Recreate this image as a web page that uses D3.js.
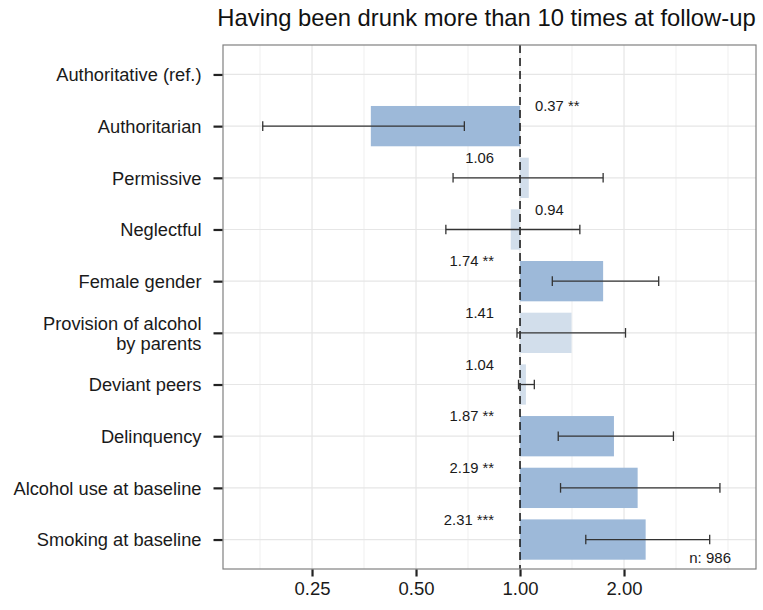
<!DOCTYPE html>
<html>
<head>
<meta charset="utf-8">
<script src="https://cdn.jsdelivr.net/npm/d3@7"></script>
<style>
  html, body { margin: 0; padding: 0; background: #fff; }
  svg { display: block; font-family: "Liberation Sans", Arial, Helvetica, sans-serif; }
</style>
</head>
<body>
<svg id="chart" width="763" height="610"></svg>
<script>
// ---- data ----
const categories = [
  "Authoritative (ref.)", "Authoritarian", "Permissive", "Neglectful",
  "Female gender", "Provision of alcohol\nby parents", "Deviant peers",
  "Delinquency", "Alcohol use at baseline", "Smoking at baseline"
];
const oddsRatios = [null, 0.37, 1.06, 0.94, 1.74, 1.41, 1.04, 1.87, 2.19, 2.31];
const ciLower    = [null, 0.18, 0.64, 0.61, 1.24, 0.98, 0.99, 1.29, 1.31, 1.55];
const ciUpper    = [null, 0.69, 1.74, 1.49, 2.52, 2.02, 1.10, 2.78, 3.79, 3.54];
const stars      = ["", "**", "", "", "**", "", "", "**", "**", "***"];
const tickValues = [0.25, 0.5, 1, 2];
const tickLabels = ["0.25", "0.50", "1.00", "2.00"];
const minorGrid  = [Math.SQRT1_2 / 4, Math.SQRT1_2 / 2, Math.SQRT1_2, Math.SQRT2, 2 * Math.SQRT2, 4];
const titleText  = "Having been drunk more than 10 times at follow-up";
const nLabel     = "n: 986";

const rows = categories.map((c, i) => ({
  cat: c, or: oddsRatios[i], lo: ciLower[i], hi: ciUpper[i], star: stars[i]
}));

// ---- layout ----
const P = { left: 223, right: 756, top: 45, bottom: 569 };
const svg = d3.select("#chart");

const x = d3.scaleLog().base(2)
  .domain([Math.pow(2, -2.856), Math.pow(2, 2.269)])
  .range([P.left, P.right]);
const y = d3.scalePoint().domain(categories)
  .range([P.top, P.bottom]).padding(0.57);
const step = y.step();
const barH = step * 0.78;

const g = svg.append("g");

// panel background
g.append("rect").attr("x", P.left).attr("y", P.top)
  .attr("width", P.right - P.left).attr("height", P.bottom - P.top)
  .attr("fill", "#fff");

// minor gridlines
g.selectAll("line.minor").data(minorGrid).join("line")
  .attr("class", "minor")
  .attr("x1", d => x(d)).attr("x2", d => x(d))
  .attr("y1", P.top).attr("y2", P.bottom)
  .attr("stroke", "#efefef").attr("stroke-width", 1);

// major gridlines
g.selectAll("line.vmajor").data(tickValues).join("line")
  .attr("class", "vmajor")
  .attr("x1", d => x(d)).attr("x2", d => x(d))
  .attr("y1", P.top).attr("y2", P.bottom)
  .attr("stroke", "#e6e6e6").attr("stroke-width", 1.2);
g.selectAll("line.hmajor").data(categories).join("line")
  .attr("class", "hmajor")
  .attr("x1", P.left).attr("x2", P.right)
  .attr("y1", d => y(d)).attr("y2", d => y(d))
  .attr("stroke", "#e6e6e6").attr("stroke-width", 1.2);

const dataRows = rows.filter(r => r.or !== null);

// bars
g.selectAll("rect.bar").data(dataRows).join("rect")
  .attr("class", "bar")
  .attr("x", d => Math.min(x(1), x(d.or)))
  .attr("width", d => Math.abs(x(d.or) - x(1)))
  .attr("y", d => y(d.cat) - barH / 2)
  .attr("height", barH)
  .attr("fill", d => d.star ? "#9db9d9" : "#d2deeb");

// reference dashed line
g.append("line")
  .attr("x1", x(1)).attr("x2", x(1))
  .attr("y1", P.top).attr("y2", P.bottom)
  .attr("stroke", "#111").attr("stroke-width", 1.5)
  .attr("stroke-dasharray", "8,5");

// error bars
const capH = 4.8;
const eb = g.selectAll("g.eb").data(dataRows).join("g").attr("class", "eb")
  .attr("stroke", "#333").attr("stroke-width", 1.3);
eb.append("line")
  .attr("x1", d => x(d.lo)).attr("x2", d => x(d.hi))
  .attr("y1", d => y(d.cat)).attr("y2", d => y(d.cat));
eb.append("line")
  .attr("x1", d => x(d.lo)).attr("x2", d => x(d.lo))
  .attr("y1", d => y(d.cat) - capH).attr("y2", d => y(d.cat) + capH);
eb.append("line")
  .attr("x1", d => x(d.hi)).attr("x2", d => x(d.hi))
  .attr("y1", d => y(d.cat) - capH).attr("y2", d => y(d.cat) + capH);

// value labels
g.selectAll("text.val").data(dataRows).join("text")
  .attr("class", "val")
  .attr("x", d => d.or < 1 ? x(1) + 15 : x(1) - 26)
  .attr("y", d => y(d.cat) - barH / 2)
  .attr("dy", "0.35em")
  .attr("text-anchor", d => d.or < 1 ? "start" : "end")
  .attr("font-size", 14.8)
  .attr("fill", "#1a1a1a")
  .text(d => d.or.toFixed(2) + (d.star ? " " + d.star : ""));

// n label
g.append("text")
  .attr("x", P.right - 25).attr("y", P.bottom - 6)
  .attr("text-anchor", "end")
  .attr("font-size", 15)
  .attr("fill", "#1a1a1a")
  .text(nLabel);

// panel border
g.append("rect").attr("x", P.left).attr("y", P.top)
  .attr("width", P.right - P.left).attr("height", P.bottom - P.top)
  .attr("fill", "none").attr("stroke", "#808080").attr("stroke-width", 1.2);

// x axis
const xAxis = d3.axisBottom(x).tickValues(tickValues)
  .tickFormat((d, i) => tickLabels[i]).tickSize(7).tickPadding(5);
const xa = svg.append("g").attr("transform", `translate(0,${P.bottom + 0.5})`).call(xAxis);
xa.select(".domain").remove();
xa.selectAll(".tick line").attr("stroke", "#222").attr("stroke-width", 2.2);
xa.selectAll(".tick text").attr("font-size", 18.5).attr("fill", "#1a1a1a")
  .attr("font-family", "Liberation Sans, Arial, sans-serif");

// y axis
const yAxis = d3.axisLeft(y).tickSize(9).tickPadding(10).tickFormat("");
const ya = svg.append("g").attr("transform", `translate(${P.left - 0.5},0)`).call(yAxis);
ya.select(".domain").remove();
ya.selectAll(".tick line").attr("stroke", "#222").attr("stroke-width", 2.2);
ya.selectAll(".tick").each(function(d) {
  const lines = d.split("\n");
  const t = d3.select(this).append("text")
    .attr("x", -21).attr("text-anchor", "end")
    .attr("font-size", 18.3).attr("fill", "#1a1a1a")
    .attr("font-family", "Liberation Sans, Arial, sans-serif");
  const lh = 20;
  lines.forEach((ln, i) => {
    t.append("tspan").attr("x", -21)
      .attr("y", (i - (lines.length - 1) / 2) * lh)
      .attr("dy", "0.35em").text(ln);
  });
});

// title
svg.append("text")
  .attr("x", 486.5).attr("y", 26)
  .attr("text-anchor", "middle")
  .attr("font-size", 23.8)
  .attr("fill", "#111")
  .text(titleText);
</script>
</body>
</html>
